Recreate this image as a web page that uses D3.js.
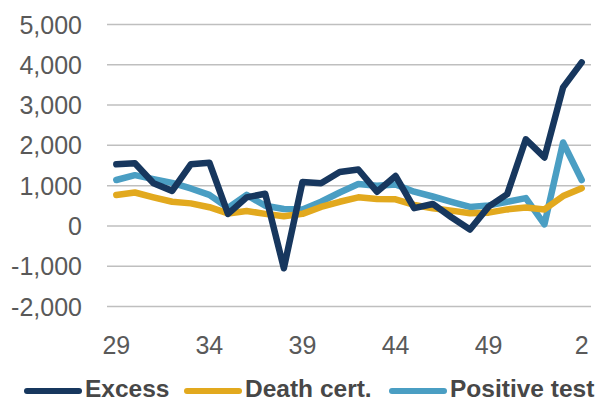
<!DOCTYPE html>
<html>
<head>
<meta charset="utf-8">
<script src="https://cdn.jsdelivr.net/npm/d3@7"></script>
<style>
  body { margin: 0; background: #fff; }
  svg { font-family: "Liberation Sans", Arial, sans-serif; }
</style>
</head>
<body>
<svg id="chart" width="609" height="403"></svg>
<script>
// weeks 29..52, then 1, 2
const weeks = ['29','30','31','32','33','34','35','36','37','38','39','40','41','42','43','44','45','46','47','48','49','50','51','52','1','2'];
const tickWeeks = ['29','34','39','44','49','2'];
const yTicks = [-2000, -1000, 0, 1000, 2000, 3000, 4000, 5000];

const excess = [1530, 1555, 1060, 870, 1530, 1570, 300, 710, 800, -1050, 1090, 1060, 1340, 1400, 850, 1240, 440, 545, 215, -90, 480, 790, 2150, 1700, 3440, 4060];
const deathCert = [770, 830, 710, 600, 560, 465, 310, 370, 300, 240, 300, 470, 600, 710, 670, 660, 520, 440, 380, 315, 330, 410, 460, 410, 740, 935];
const positiveTest = [1140, 1260, 1160, 1070, 930, 770, 450, 770, 500, 420, 410, 600, 830, 1040, 1000, 1030, 850, 730, 600, 470, 510, 600, 690, 40, 2070, 1140];

const series = [
  { name: 'Excess', values: excess, color: '#17375e' },
  { name: 'Death cert.', values: deathCert, color: '#e2a91e' },
  { name: 'Positive test', values: positiveTest, color: '#4a9ec3' }
];

const svg = d3.select('#chart');
const mLeft = 107, mRight = 591, mTop = 24.5, mBottom = 306.5;

const x = d3.scaleBand().domain(weeks).range([mLeft, mRight]);
const y = d3.scaleLinear().domain([-2000, 5000]).range([mBottom, mTop]);
// plain hyphen for negatives, like the original
const fmt = d => d3.format(',')(d).replace('\u2212', '-');

// gridlines
svg.append('g')
  .selectAll('line')
  .data(yTicks)
  .join('line')
  .attr('x1', mLeft).attr('x2', mRight)
  .attr('y1', d => y(d)).attr('y2', d => y(d))
  .attr('stroke', '#bfbfbf')
  .attr('stroke-width', 1.5);

// y labels
svg.append('g')
  .selectAll('text')
  .data(yTicks)
  .join('text')
  .attr('x', 82)
  .attr('y', d => y(d))
  .attr('dy', '0.36em')
  .attr('text-anchor', 'end')
  .attr('font-size', 25)
  .attr('fill', '#595959')
  .text(d => fmt(d));

// x labels
svg.append('g')
  .selectAll('text')
  .data(tickWeeks)
  .join('text')
  .attr('x', d => x(d) + x.bandwidth() / 2)
  .attr('y', 354)
  .attr('text-anchor', 'middle')
  .attr('font-size', 25)
  .attr('fill', '#595959')
  .text(d => d);

const line = d3.line()
  .x((d, i) => x(weeks[i]) + x.bandwidth() / 2)
  .y(d => y(d));

// draw order: positive test, death cert, excess on top
[series[2], series[1], series[0]].forEach(s => {
  svg.append('path')
    .datum(s.values)
    .attr('d', line)
    .attr('fill', 'none')
    .attr('stroke', s.color)
    .attr('stroke-width', 6.5)
    .attr('stroke-linejoin', 'round')
    .attr('stroke-linecap', 'round');
});

// legend
const legendPos = [25, 185, 390];
const lg = svg.append('g');
series.forEach((s, i) => {
  const lx = legendPos[i];
  lg.append('line')
    .attr('x1', lx + 2).attr('x2', lx + 54)
    .attr('y1', 391).attr('y2', 391)
    .attr('stroke', s.color)
    .attr('stroke-width', 6)
    .attr('stroke-linecap', 'round');
  lg.append('text')
    .attr('x', lx + 60)
    .attr('y', 397)
    .attr('font-size', 24.5)
    .attr('font-weight', 'bold')
    .attr('fill', '#474747')
    .text(s.name);
});
</script>
</body>
</html>
